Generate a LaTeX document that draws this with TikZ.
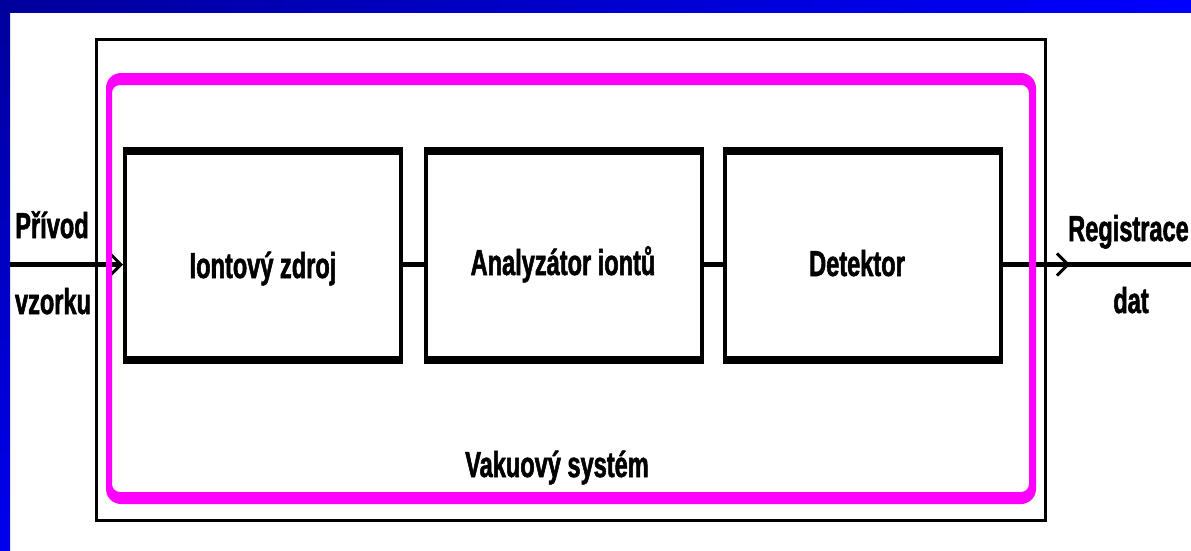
\documentclass[tikz,border=0pt]{standalone}
\usepackage{fontspec}
\setmainfont{Liberation Sans}[FakeStretch=0.655,BoldFeatures={FakeBold=1.5}]
\usetikzlibrary{arrows.meta}
\definecolor{bardark}{HTML}{00009C}
\definecolor{barbright}{HTML}{0000FF}
\definecolor{barleftbot}{HTML}{0000EE}
\definecolor{mag}{HTML}{FF00FF}
\begin{document}
\begin{tikzpicture}[x=1pt,y=-1pt,
  blk/.style={draw=none,fill=black,minimum width=280pt,minimum height=217pt,
    inner sep=0pt,outer sep=0pt,anchor=north west,
    path picture={\fill[white] ([xshift=4pt,yshift=-8pt]path picture bounding box.north west)
      rectangle ([xshift=-4pt,yshift=8pt]path picture bounding box.south east);}},
  lab/.style={font=\bfseries\fontsize{36}{40}\selectfont,anchor=base,inner sep=0pt},
  conn/.style={line width=4.5pt},
  barb/.style={-{Straight Barb[length=11pt,width=22pt,line width=3pt]}}]
\useasboundingbox (0,0) rectangle (1191,550);
\fill[white] (0,0) rectangle (1191,550);
% blue frame
\shade[left color=bardark,right color=barbright] (0,0) rectangle (1191,12);
\shade[top color=bardark,bottom color=barleftbot] (0,0) rectangle (10,550);
% boxes
\node[blk] (b1) at (123,147) {};
\node[blk] (b2) at (424,147) {};
\node[blk] (b3) at (723,147) {};
% connector coordinates
\coordinate (in) at (10,264.5);
\coordinate (out) at (1191,264.5);
\coordinate (tip) at (1070,264.5);
% connectors
\draw[conn,barb] (in) -- (in -| b1.west);
\draw[conn] (in -| b1.east) -- (in -| b2.west);
\draw[conn] (in -| b2.east) -- (in -| b3.west);
\draw[conn] (b3.east |- out) -- (out);
\draw[conn,barb] (b3.east |- out) -- (tip);
% outer vacuum frame
\draw[line width=3pt] (96.5,39.5) rectangle (1045.5,520);
% magenta rounded frame
\fill[mag,even odd rule] [rounded corners=15pt] (106,73) rectangle (1036,504)
  [rounded corners=8pt] (112,85) rectangle (1029,492);
% texts
\node[lab] (t1) at (263,278) {Iontový zdroj};
\node[lab] (t2) at (563,275) {Analyzátor iontů};
\node[lab] (t3) at (857,276) {Detektor};
\node[lab] (tin1) at (52,238) {Přívod};
\node[lab] (tin2) at (53,314) {vzorku};
\node[lab,anchor=base east] (tout1) at (1189,241) {Registrace};
\node[lab] (tout2) at (1131,313) {dat};
\node[lab] (tvac) at (557,477) {Vakuový systém};
\end{tikzpicture}
\end{document}
